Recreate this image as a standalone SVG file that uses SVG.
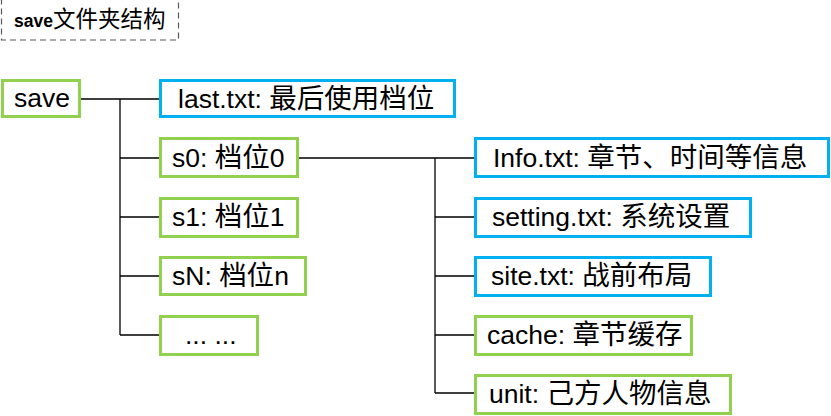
<svg xmlns="http://www.w3.org/2000/svg" width="831" height="416" viewBox="0 0 831 416">
<style>
.g{fill:#fff;stroke:#92D050;stroke-width:3}
.b{fill:#fff;stroke:#00B0F0;stroke-width:3}
.t{font-family:"Liberation Sans","Noto Sans CJK SC",sans-serif;font-size:26.5px;fill:#000}
.c{font-family:"Noto Sans CJK SC",sans-serif;font-size:27.5px}
.ln{stroke:#000;stroke-width:1.3;fill:none}
</style>
<rect width="831" height="416" fill="#fff"/>
<g id="title">
<rect x="1.5" y="-0.5" width="177" height="40.5" fill="none" stroke="#595959" stroke-width="1.2" stroke-dasharray="6,4"/>
<text x="14" y="27" style="font-family:'Liberation Sans','Noto Sans CJK SC',sans-serif;font-size:17.5px;font-weight:bold">save<tspan style="font-family:'Noto Sans CJK SC',sans-serif;font-size:22.5px;font-weight:normal">文件夹结构</tspan></text>
</g>
<g id="connectors">
<path class="ln" d="M81 99H159M120 99V335M120 158H159M120 217H159M120 276H159M120 335H159"/>
<path class="ln" d="M298 158H474M435 158V393M435 217H474M435 276H474M435 335H474M435 393H474"/>
</g>
<g id="save"><rect class="g" x="2.5" y="80.5" width="77" height="36"/><text class="t" x="14" y="107">save</text></g>
<g id="last"><rect class="b" x="160.5" y="80.5" width="294" height="36"/><text class="t" x="178" y="108">last.txt: <tspan class="c">最后使用档位</tspan></text></g>
<g id="s0"><rect class="g" x="160.5" y="138.5" width="137" height="38"/><text class="t" x="172" y="167">s0: <tspan class="c">档位</tspan>0</text></g>
<g id="s1"><rect class="g" x="160.5" y="198.5" width="137" height="38"/><text class="t" x="172" y="226">s1: <tspan class="c">档位</tspan>1</text></g>
<g id="sN"><rect class="g" x="160.5" y="257.5" width="145" height="37"/><text class="t" x="172" y="285">sN: <tspan class="c">档位</tspan>n</text></g>
<g id="more"><rect class="g" x="160.5" y="316.5" width="97" height="38"/><text class="t" x="185" y="344">... ...</text></g>
<g id="info"><rect class="b" x="475.5" y="138.5" width="353" height="38"/><text class="t" x="493" y="167">Info.txt: <tspan class="c">章节、时间等信息</tspan></text></g>
<g id="setting"><rect class="b" x="475.5" y="198.5" width="275" height="38"/><text class="t" x="492" y="226">setting.txt: <tspan class="c">系统设置</tspan></text></g>
<g id="site"><rect class="b" x="475.5" y="257.5" width="235" height="38"/><text class="t" x="491" y="285">site.txt: <tspan class="c">战前布局</tspan></text></g>
<g id="cache"><rect class="g" x="475.5" y="316.5" width="216" height="38"/><text class="t" x="487" y="344">cache: <tspan class="c">章节缓存</tspan></text></g>
<g id="unit"><rect class="g" x="475.5" y="375.5" width="255" height="38"/><text class="t" x="489" y="403">unit: <tspan class="c">己方人物信息</tspan></text></g>
</svg>
